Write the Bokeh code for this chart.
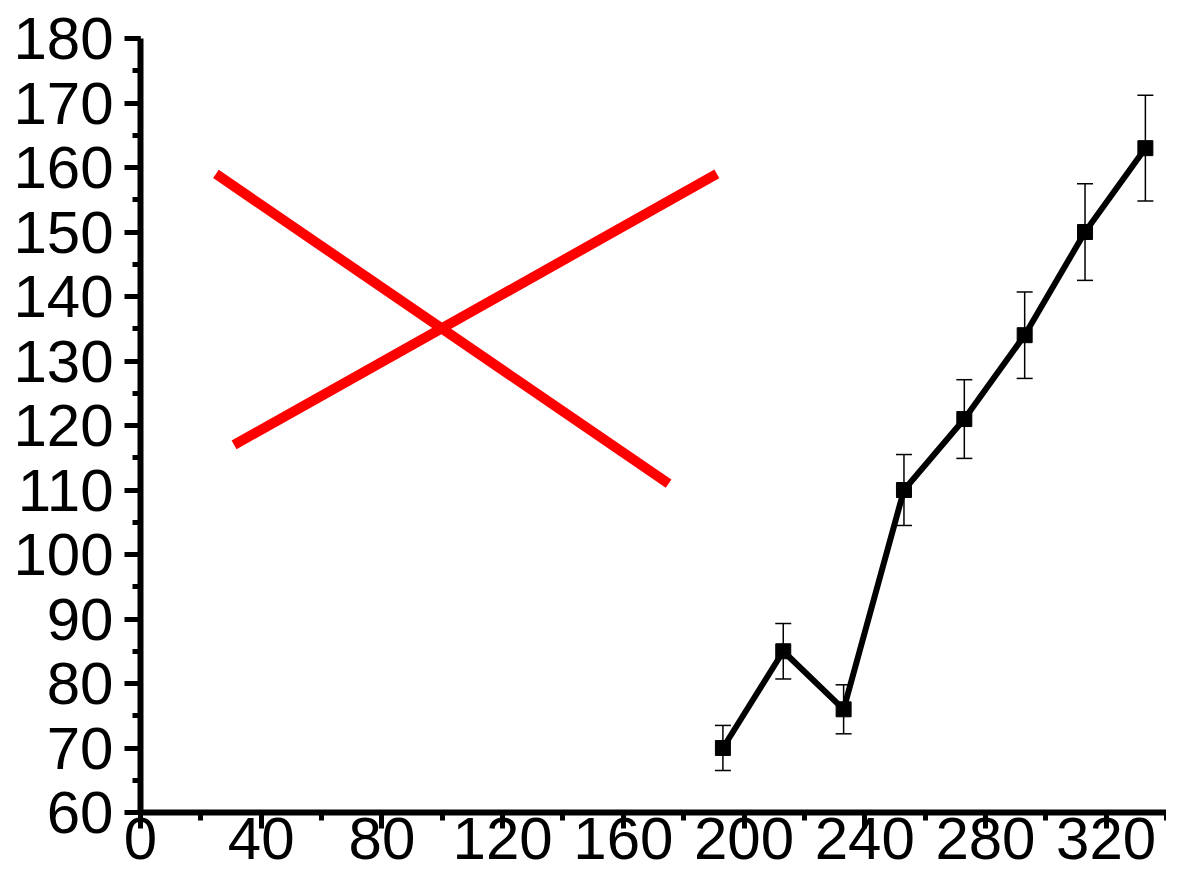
from bokeh.plotting import figure
from bokeh.models import ColumnDataSource, Whisker, TeeHead, SingleIntervalTicker, Range1d
from bokeh.embed import file_html
from bokeh.resources import INLINE

# Measured series (x, mean, error)
x_vals = [193, 213, 233, 253, 273, 293, 313, 333]
y_vals = [70, 85, 76, 110, 121, 134, 150, 163]
y_err = [3.5, 4.3, 3.8, 5.5, 6.1, 6.7, 7.5, 8.2]

# Red cross-out lines (start/end points in data units)
cross_x0 = [25, 31]
cross_y0 = [159, 117]
cross_x1 = [175, 191]
cross_y1 = [111, 159]

x_ticks_interval = 40
y_ticks_interval = 10

upper = [y + e for y, e in zip(y_vals, y_err)]
lower = [y - e for y, e in zip(y_vals, y_err)]
src = ColumnDataSource(dict(x=x_vals, y=y_vals, upper=upper, lower=lower))

p = figure(width=1166, height=876, output_backend="svg", toolbar_location=None,
           x_range=Range1d(0, 340), y_range=Range1d(60, 180),
           min_border_left=140, min_border_right=0, min_border_top=38, min_border_bottom=64)
p.outline_line_color = None
p.xgrid.visible = False
p.ygrid.visible = False
p.background_fill_color = "white"
p.border_fill_color = "white"

p.xaxis.ticker = SingleIntervalTicker(interval=x_ticks_interval, num_minor_ticks=2)
p.yaxis.ticker = SingleIntervalTicker(interval=y_ticks_interval, num_minor_ticks=2)

for ax in (p.xaxis, p.yaxis):
    ax.axis_line_width = 6
    ax.axis_line_color = "black"
    ax.major_tick_line_width = 5
    ax.minor_tick_line_width = 5
    ax.major_tick_line_color = "black"
    ax.minor_tick_line_color = "black"
    ax.major_tick_in = 0
    ax.minor_tick_in = 0
    ax.major_tick_out = 16
    ax.minor_tick_out = 8
    ax.major_label_text_font = "Liberation Sans"
    ax.major_label_text_font_size = "60px"
    ax.major_label_text_color = "black"

p.yaxis.major_label_standoff = 11
p.xaxis.major_label_standoff = -11
p.xaxis.major_label_text_line_height = 0.6

# red cross
p.segment(x0=cross_x0, y0=cross_y0, x1=cross_x1, y1=cross_y1,
          line_color="#ff0000", line_width=10)

# error bars
w = Whisker(base="x", upper="upper", lower="lower", source=src,
            line_color="black", line_width=1.5,
            upper_head=TeeHead(size=16, line_color="black", line_width=1.5),
            lower_head=TeeHead(size=16, line_color="black", line_width=1.5))
p.add_layout(w)

p.line("x", "y", source=src, line_color="black", line_width=6)
p.scatter("x", "y", source=src, marker="square", size=15, color="black")

open("out.html", "w").write(file_html(p, INLINE))
